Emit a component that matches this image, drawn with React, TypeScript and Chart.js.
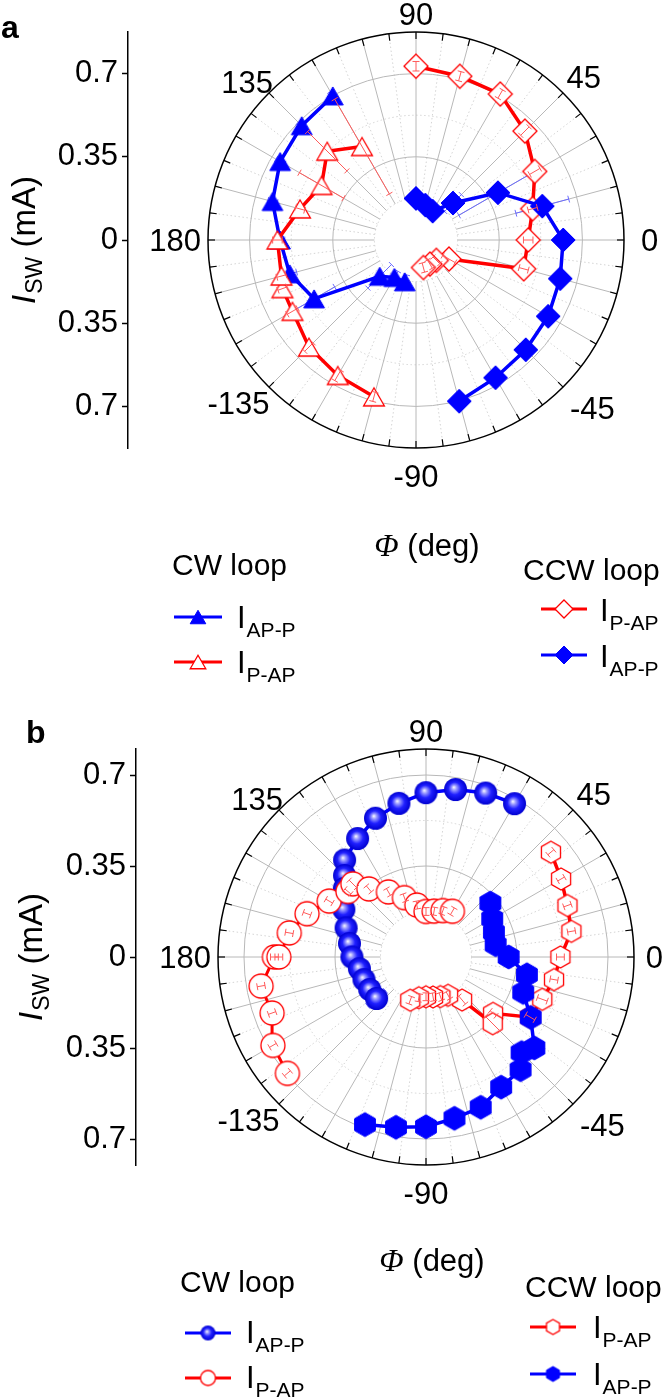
import React, { useEffect, useRef } from 'react';
import { Chart, registerables } from 'chart.js';

Chart.register(...registerables);

const SANS = '"Liberation Sans", Arial, Helvetica, sans-serif';
const SERIF = '"Liberation Serif", "Times New Roman", serif';
const BLUE = '#0000ff';
const RED = '#ff0000';

// ---------------- Panel a data (angle in deg, I_SW in mA, error in mA) ----------------
const aCwApPAngles = [120, 135, 150, 165, 180, -165, -150, -135, -120, -105];
const aCwApPRadii = [0.70, 0.68, 0.66, 0.625, 0.572, 0.55, 0.495, 0.216, 0.182, 0.182];
const aCwApPErrors = [0.02, 0.02, 0.02, 0.02, 0.02, 0.03, 0.10, 0.07, 0.03, 0.03];

const aCwPApAngles = [-105, -120, -135, -150, -160, -165, 180, 165, 150, 135, 120];
const aCwPApRadii = [0.683, 0.658, 0.637, 0.60, 0.598, 0.586, 0.583, 0.505, 0.459, 0.528, 0.454];
const aCwPApErrors = [0.02, 0.025, 0.025, 0.025, 0.02, 0.02, 0.02, 0.02, 0.107, 0.117, 0.23];

const aCcwPApAngles = [90, 75, 60, 45, 30, 15, 0, -15, -30, -45, -60, -75];
const aCcwPApRadii = [0.731, 0.713, 0.709, 0.648, 0.577, 0.508, 0.472, 0.469, 0.16, 0.121, 0.117, 0.12];
const aCcwPApErrors = [0.02, 0.02, 0.02, 0.025, 0.025, 0.02, 0.02, 0.02, 0.03, 0.02, 0.02, 0.02];

const aCcwApPAngles = [-75, -60, -45, -30, -15, 0, 15, 30, 45, 60, 75, 90];
const aCcwApPRadii = [0.702, 0.669, 0.653, 0.642, 0.628, 0.619, 0.55, 0.398, 0.22, 0.14, 0.152, 0.175];
const aCcwApPErrors = [0.02, 0.02, 0.02, 0.02, 0.02, 0.02, 0.115, 0.19, 0.05, 0.02, 0.02, 0.02];

// ---------------- Panel b data ----------------
const bCwApPAngles = [60, 70, 80, 90, 100, 110, 120, 130, 135, 140, 150, 160, 170, 180, -170, -160, -150, -140];
const bCwApPRadii = [0.681, 0.671, 0.654, 0.632, 0.600, 0.568, 0.526, 0.487, 0.443, 0.41, 0.365, 0.327, 0.299, 0.285, 0.26, 0.254, 0.25, 0.248];
const bCwApPErrors = [0.015, 0.015, 0.015, 0.015, 0.015, 0.015, 0.015, 0.015, 0.04, 0.015, 0.015, 0.015, 0.015, 0.015, 0.02, 0.03, 0.04, 0.045];

const bCwPApAngles = [-140, -150, -160, -170, 180, 180, 170, 160, 150, 140, 135, 130, 120, 110, 100, 90, 80, 70, 60];
const bCwPApRadii = [0.696, 0.68, 0.63, 0.644, 0.583, 0.566, 0.534, 0.487, 0.43, 0.392, 0.398, 0.342, 0.289, 0.243, 0.203, 0.175, 0.179, 0.19, 0.203];
const bCwPApErrors = [0.015, 0.015, 0.015, 0.015, 0.015, 0.015, 0.015, 0.015, 0.015, 0.015, 0.02, 0.015, 0.015, 0.015, 0.015, 0.015, 0.015, 0.015, 0.015];

const bCcwPApAngles = [40, 30, 20, 10, 0, -10, -20, -30, -40, -45, -50, -60, -70, -80, -90, -100, -110];
const bCcwPApRadii = [0.627, 0.60, 0.579, 0.568, 0.517, 0.50, 0.476, 0.463, 0.337, 0.363, 0.216, 0.17, 0.162, 0.156, 0.153, 0.159, 0.177];
const bCcwPApErrors = [0.015, 0.015, 0.015, 0.015, 0.015, 0.015, 0.02, 0.02, 0.015, 0.04, 0.02, 0.015, 0.015, 0.015, 0.015, 0.015, 0.015];

const bCcwApPAngles = [-110, -100, -90, -80, -70, -60, -50, -45, -40, -30, -20, -10, 0, 10, 20, 30, 40];
const bCcwApPRadii = [0.686, 0.665, 0.653, 0.63, 0.615, 0.578, 0.566, 0.52, 0.544, 0.465, 0.398, 0.394, 0.318, 0.272, 0.278, 0.294, 0.323];
const bCcwApPErrors = [0.015, 0.015, 0.015, 0.015, 0.015, 0.015, 0.015, 0.015, 0.015, 0.015, 0.015, 0.015, 0.015, 0.015, 0.015, 0.015, 0.015];

// ---------------- Axes / grid values ----------------
const radialTickValues = [-0.7, -0.35, 0, 0.35, 0.7];
const angleTickLabels = [0, 45, 90, 135, 180, -135, -90, -45];
const solidRingValues = [0.35, 0.7];
const dottedRingValues = [0.175, 0.525];
const spokeStart = 0.175;

type Series = {
  angles: number[]; radii: number[]; errors: number[];
  kind: string; color: string; size: number; lineWidth: number; errColor: string; errBelow: boolean;
};

type LegendEntry = { s: number; x1: number; x2: number; y: number; tx: number; ty: number; sub: string };

type Panel = {
  letter: string; height: number; cx: number; cy: number; R: number; rMax: number; axisX: number;
  letterPos: [number, number]; titlePos: [number, number]; phiPos: [number, number];
  headers: { text: string; x: number; y: number }[];
  legend: LegendEntry[]; legendSize: number;
  series: Series[]; // bottom-to-top drawing order
};

function makeMarker(kind: string, r: number, color: string): HTMLCanvasElement {
  const size = Math.ceil(2 * r + 4);
  const c = document.createElement('canvas');
  c.width = size; c.height = size;
  const g = c.getContext('2d')!;
  const cx = size / 2, cy = size / 2;
  const open = kind.endsWith('Open');
  g.beginPath();
  if (kind.startsWith('tri')) {
    const h = 1.5 * r; const half = (r * Math.sqrt(3)) / 2;
    g.moveTo(cx, cy - h / 2); g.lineTo(cx + half, cy + h / 2); g.lineTo(cx - half, cy + h / 2); g.closePath();
  } else if (kind.startsWith('dia')) {
    g.moveTo(cx, cy - r); g.lineTo(cx + r, cy); g.lineTo(cx, cy + r); g.lineTo(cx - r, cy); g.closePath();
  } else if (kind.startsWith('hex')) {
    for (let k = 0; k < 6; k++) {
      const a = ((-90 + 60 * k) * Math.PI) / 180;
      const px = cx + r * Math.cos(a), py = cy + r * Math.sin(a);
      if (k === 0) g.moveTo(px, py); else g.lineTo(px, py);
    }
    g.closePath();
  } else {
    g.arc(cx, cy, r, 0, 2 * Math.PI);
  }
  if (kind === 'sphere') {
    const grad = g.createRadialGradient(cx - 0.15 * r, cy - 0.2 * r, 0, cx, cy, r);
    grad.addColorStop(0, '#ffffff');
    grad.addColorStop(0.22, '#9a9aff');
    grad.addColorStop(0.55, '#2020ff');
    grad.addColorStop(1, '#0000d0');
    g.fillStyle = grad; g.fill();
  } else if (open) {
    g.fillStyle = '#ffffff'; g.fill(); g.lineWidth = 1.3; g.strokeStyle = color; g.stroke();
  } else {
    g.fillStyle = color; g.fill(); g.lineWidth = 1; g.strokeStyle = color; g.stroke();
  }
  return c;
}

function panelA(): Panel {
  return {
    letter: 'a', height: 690, cx: 416, cy: 240, R: 208, rMax: 0.875, axisX: 128,
    letterPos: [1, 38], titlePos: [35, 240], phiPos: [427, 556],
    headers: [{ text: 'CW loop', x: 172, y: 575 }, { text: 'CCW loop', x: 523, y: 580 }],
    legendSize: 9,
    series: [
      { angles: aCcwPApAngles, radii: aCcwPApRadii, errors: aCcwPApErrors, kind: 'diaOpen', color: RED, size: 12, lineWidth: 3.5, errColor: '#ff5a5a', errBelow: false },
      { angles: aCcwApPAngles, radii: aCcwApPRadii, errors: aCcwApPErrors, kind: 'diaFilled', color: BLUE, size: 12, lineWidth: 3.5, errColor: '#6a6aff', errBelow: true },
      { angles: aCwApPAngles, radii: aCwApPRadii, errors: aCwApPErrors, kind: 'triFilled', color: BLUE, size: 12, lineWidth: 3.5, errColor: '#6a6aff', errBelow: true },
      { angles: aCwPApAngles, radii: aCwPApRadii, errors: aCwPApErrors, kind: 'triOpen', color: RED, size: 12, lineWidth: 3.5, errColor: '#ff5a5a', errBelow: false },
    ],
    legend: [
      { s: 2, x1: 174, x2: 222, y: 617, tx: 237, ty: 628, sub: 'AP-P' },
      { s: 3, x1: 174, x2: 222, y: 662, tx: 237, ty: 673, sub: 'P-AP' },
      { s: 0, x1: 541, x2: 587, y: 609, tx: 600, ty: 621, sub: 'P-AP' },
      { s: 1, x1: 541, x2: 587, y: 655, tx: 600, ty: 667, sub: 'AP-P' },
    ],
  };
}

function panelB(): Panel {
  return {
    letter: 'b', height: 709, cx: 426, cy: 267, R: 208, rMax: 0.8, axisX: 136,
    letterPos: [26, 53], titlePos: [42, 267], phiPos: [432, 581],
    headers: [{ text: 'CW loop', x: 180, y: 602 }, { text: 'CCW loop', x: 525, y: 607 }],
    legendSize: 7.5,
    series: [
      { angles: bCcwPApAngles, radii: bCcwPApRadii, errors: bCcwPApErrors, kind: 'hexOpen', color: RED, size: 11, lineWidth: 3.5, errColor: '#ff5a5a', errBelow: false },
      { angles: bCcwApPAngles, radii: bCcwApPRadii, errors: bCcwApPErrors, kind: 'hexFilled', color: BLUE, size: 12, lineWidth: 3.5, errColor: '#6a6aff', errBelow: true },
      { angles: bCwApPAngles, radii: bCwApPRadii, errors: bCwApPErrors, kind: 'sphere', color: BLUE, size: 11.5, lineWidth: 3.5, errColor: '#6a6aff', errBelow: true },
      { angles: bCwPApAngles, radii: bCwPApRadii, errors: bCwPApErrors, kind: 'circOpen', color: RED, size: 12, lineWidth: 3, errColor: '#ff5a5a', errBelow: false },
    ],
    legend: [
      { s: 2, x1: 185, x2: 231, y: 643, tx: 246, ty: 653, sub: 'AP-P' },
      { s: 3, x1: 185, x2: 231, y: 688, tx: 246, ty: 698, sub: 'P-AP' },
      { s: 0, x1: 530, x2: 576, y: 637, tx: 593, ty: 648, sub: 'P-AP' },
      { s: 1, x1: 530, x2: 576, y: 684, tx: 593, ty: 695, sub: 'AP-P' },
    ],
  };
}

function buildChart(canvas: HTMLCanvasElement, P: Panel): Chart {
  const k = P.R / P.rMax;
  const xMin = P.rMax - (P.cx + P.R - P.axisX) / k;
  const n = P.series.length;
  const markers = P.series.map((s) => makeMarker(s.kind, s.size, s.color));
  const legendMarkers = P.series.map((s) => makeMarker(s.kind, P.legendSize, s.color));
  const rad = (d: number) => (d * Math.PI) / 180;

  const datasets = P.series.map((s, i) => ({
    data: s.angles.map((a, j) => ({ x: s.radii[j] * Math.cos(rad(a)), y: s.radii[j] * Math.sin(rad(a)) })),
    showLine: true,
    borderColor: s.color,
    backgroundColor: s.color,
    borderWidth: s.lineWidth,
    pointStyle: markers[i] as any,
    pointRadius: s.size,
    pointHoverRadius: s.size,
    tension: 0,
    order: n - 1 - i,
  }));

  const drawErrors = (chart: any, below: boolean) => {
    const ctx: CanvasRenderingContext2D = chart.ctx;
    const xs = chart.scales.x, ys = chart.scales.y;
    ctx.save();
    ctx.lineWidth = 1;
    P.series.forEach((s) => {
      if (s.errBelow !== below) return;
      ctx.strokeStyle = s.errColor;
      s.angles.forEach((a, j) => {
        const t = rad(a); const c = Math.cos(t), sn = Math.sin(t);
        const e = s.errors[j]; const r = s.radii[j];
        const p1x = xs.getPixelForValue((r - e) * c), p1y = ys.getPixelForValue((r - e) * sn);
        const p2x = xs.getPixelForValue((r + e) * c), p2y = ys.getPixelForValue((r + e) * sn);
        const nx = -sn * 3.5, ny = -c * 3.5;
        ctx.beginPath();
        ctx.moveTo(p1x, p1y); ctx.lineTo(p2x, p2y);
        ctx.moveTo(p1x - nx, p1y - ny); ctx.lineTo(p1x + nx, p1y + ny);
        ctx.moveTo(p2x - nx, p2y - ny); ctx.lineTo(p2x + nx, p2y + ny);
        ctx.stroke();
      });
    });
    ctx.restore();
  };

  const gridPlugin = {
    id: 'polarGrid',
    beforeDatasetsDraw(chart: any) {
      const ctx: CanvasRenderingContext2D = chart.ctx;
      const xs = chart.scales.x, ys = chart.scales.y;
      const cx = xs.getPixelForValue(0), cy = ys.getPixelForValue(0);
      const R = xs.getPixelForValue(P.rMax) - cx;
      const kk = R / P.rMax;
      const spoke = (deg: number) => {
        const t = rad(deg);
        ctx.beginPath();
        ctx.moveTo(cx + spokeStart * kk * Math.cos(t), cy - spokeStart * kk * Math.sin(t));
        ctx.lineTo(cx + R * Math.cos(t), cy - R * Math.sin(t));
        ctx.stroke();
      };
      ctx.save();
      ctx.strokeStyle = '#d4d4d4'; ctx.lineWidth = 1; ctx.setLineDash([1.5, 2.5]);
      dottedRingValues.forEach((r) => { ctx.beginPath(); ctx.arc(cx, cy, r * kk, 0, 2 * Math.PI); ctx.stroke(); });
      for (let a = 7.5; a < 360; a += 15) spoke(a);
      ctx.setLineDash([]);
      ctx.strokeStyle = '#b8b8b8';
      solidRingValues.forEach((r) => { ctx.beginPath(); ctx.arc(cx, cy, r * kk, 0, 2 * Math.PI); ctx.stroke(); });
      for (let a = 0; a < 360; a += 15) spoke(a);
      // outer circle and ticks
      ctx.strokeStyle = '#000'; ctx.lineWidth = 1.5;
      ctx.beginPath(); ctx.arc(cx, cy, R, 0, 2 * Math.PI); ctx.stroke();
      ctx.lineWidth = 1.2;
      for (let a = 0; a < 360; a += 7.5) {
        const t = rad(a);
        ctx.beginPath();
        ctx.moveTo(cx + R * Math.cos(t), cy - R * Math.sin(t));
        ctx.lineTo(cx + (R - 7) * Math.cos(t), cy - (R - 7) * Math.sin(t));
        ctx.stroke();
      }
      // angle labels
      ctx.fillStyle = '#000';
      ctx.font = `31px ${SANS}`;
      ctx.textAlign = 'center';
      ctx.textBaseline = 'alphabetic';
      angleTickLabels.forEach((a) => {
        const t = rad(a); const c = Math.cos(t), s = Math.sin(t);
        const text = String(a);
        const w = ctx.measureText(text).width; const h = 22;
        const gap = 12 + 5 * (c - s);
        let x = cx + c * (R + gap) + (c * w) / 2;
        x = Math.min(x, 663 - w / 2);
        const y = cy - s * (R + gap) - (s * h) / 2 + h / 2;
        ctx.fillText(text, x, y);
      });
      ctx.restore();
      drawErrors(chart, true);
    },
    afterDatasetsDraw(chart: any) {
      drawErrors(chart, false);
    },
  };

  const textPlugin = {
    id: 'panelText',
    afterDraw(chart: any) {
      const ctx: CanvasRenderingContext2D = chart.ctx;
      ctx.save();
      ctx.fillStyle = '#000';
      ctx.textBaseline = 'alphabetic';
      ctx.textAlign = 'left';
      // panel letter
      ctx.font = `bold 32px ${SANS}`;
      ctx.fillText(P.letter, P.letterPos[0], P.letterPos[1]);
      // y title
      ctx.save();
      ctx.translate(P.titlePos[0], P.titlePos[1]);
      ctx.rotate(-Math.PI / 2);
      const f1 = `italic 33px ${SANS}`, f2 = `23px ${SANS}`, f3 = `33px ${SANS}`;
      ctx.font = f1; const w1 = ctx.measureText('I').width;
      ctx.font = f2; const w2 = ctx.measureText('SW').width;
      ctx.font = f3; const w3 = ctx.measureText(' (mA)').width;
      let x = -(w1 + w2 + w3 + 1) / 2;
      ctx.font = f1; ctx.fillText('I', x, 0); x += w1 + 1;
      ctx.font = f2; ctx.fillText('SW', x, 7); x += w2;
      ctx.font = f3; ctx.fillText(' (mA)', x, 0);
      ctx.restore();
      // Phi (deg)
      const pf1 = `italic 32px ${SERIF}`, pf2 = `31px ${SANS}`;
      ctx.font = pf1; const pw1 = ctx.measureText('Φ').width;
      ctx.font = pf2; const pw2 = ctx.measureText(' (deg)').width;
      let px = P.phiPos[0] - (pw1 + pw2) / 2;
      ctx.font = pf1; ctx.fillText('Φ', px, P.phiPos[1]); px += pw1;
      ctx.font = pf2; ctx.fillText(' (deg)', px, P.phiPos[1]);
      // headers
      ctx.font = `30px ${SANS}`;
      P.headers.forEach((h) => ctx.fillText(h.text, h.x, h.y));
      // legend entries
      P.legend.forEach((e) => {
        const s = P.series[e.s];
        ctx.strokeStyle = s.color; ctx.lineWidth = 3;
        ctx.beginPath(); ctx.moveTo(e.x1, e.y); ctx.lineTo(e.x2, e.y); ctx.stroke();
        const m = legendMarkers[e.s];
        ctx.drawImage(m, (e.x1 + e.x2) / 2 - m.width / 2, e.y - m.height / 2);
        ctx.fillStyle = '#000';
        ctx.font = `31px ${SANS}`;
        ctx.fillText('I', e.tx, e.ty);
        const iw = ctx.measureText('I').width;
        ctx.font = `21px ${SANS}`;
        ctx.fillText(e.sub, e.tx + iw + 1, e.ty + 9);
      });
      ctx.restore();
    },
  };

  return new Chart(canvas, {
    type: 'scatter',
    data: { datasets: datasets as any },
    options: {
      animation: false,
      responsive: false,
      maintainAspectRatio: false,
      devicePixelRatio: 1,
      events: [],
      layout: {
        padding: { left: 0, top: P.cy - P.R, bottom: P.height - (P.cy + P.R), right: 666 - (P.cx + P.R) },
      },
      plugins: { legend: { display: false }, tooltip: { enabled: false }, title: { display: false } },
      scales: {
        x: { type: 'linear', display: false, min: xMin, max: P.rMax },
        y: {
          type: 'linear', position: 'left', min: -P.rMax, max: P.rMax,
          afterFit: (s: any) => { s.width = P.axisX; },
          afterBuildTicks: (s: any) => { s.ticks = radialTickValues.map((v) => ({ value: v })); },
          ticks: {
            autoSkip: false,
            padding: 4,
            color: '#000',
            font: { family: SANS, size: 31 },
            callback: (v: any) => String(Math.round(Math.abs(Number(v)) * 100) / 100),
          },
          grid: { drawOnChartArea: false, drawTicks: true, tickLength: 6, tickColor: '#000', tickWidth: 1.5, color: '#000' },
          border: { display: true, color: '#000', width: 1.5 },
        },
      },
    } as any,
    plugins: [gridPlugin, textPlugin],
  });
}

export default function App() {
  const refA = useRef<HTMLCanvasElement>(null);
  const refB = useRef<HTMLCanvasElement>(null);
  useEffect(() => {
    const charts = [buildChart(refA.current!, panelA()), buildChart(refB.current!, panelB())];
    return () => charts.forEach((c) => c.destroy());
  }, []);
  return (
    <div style={{ position: 'absolute', left: 0, top: 0, width: 666, height: 1399, background: '#fff' }}>
      <canvas ref={refA} width={666} height={690} style={{ position: 'absolute', left: 0, top: 0, width: 666, height: 690 }} />
      <canvas ref={refB} width={666} height={709} style={{ position: 'absolute', left: 0, top: 690, width: 666, height: 709 }} />
    </div>
  );
}
